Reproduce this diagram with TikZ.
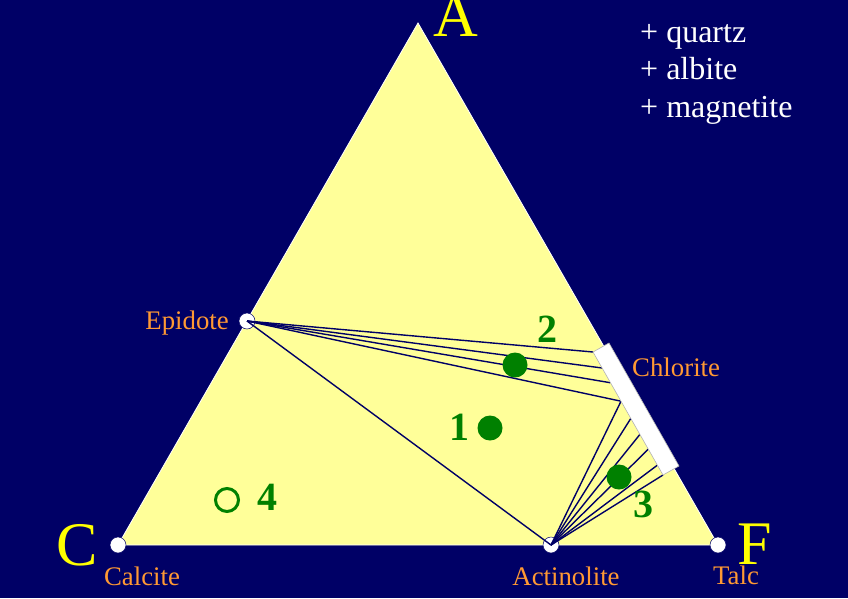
\documentclass[tikz,border=0pt]{standalone}
\usepackage{fontspec}
\setmainfont{Liberation Serif}
\usetikzlibrary{calc}
\definecolor{navy}{HTML}{000066}
\definecolor{paleyellow}{HTML}{FFFF99}
\definecolor{labelorange}{HTML}{FF9933}
\definecolor{vertexyellow}{HTML}{FFFF00}
\definecolor{ptgreen}{HTML}{008000}
\tikzset{
  mineral/.style={text=labelorange, inner sep=0pt, font=\fontsize{26.8}{26.8}\selectfont},
  corner/.style={text=vertexyellow, inner sep=0pt, font=\fontsize{62}{62}\selectfont},
  extra/.style={text=white, inner sep=0pt, anchor=base west, font=\fontsize{32}{32}\selectfont},
  ptlabel/.style={text=ptgreen, inner sep=0pt, anchor=base, font=\fontsize{40}{40}\selectfont\bfseries},
  phase/.style={circle, fill=white, draw=navy, line width=0.5pt, minimum size=16pt, inner sep=0pt},
  tie/.style={draw=navy, line width=1.4pt},
  sample/.style={circle, fill=ptgreen, minimum size=25pt, inner sep=0pt},
  opensample/.style={circle, draw=ptgreen, line width=3pt, minimum size=23pt, inner sep=0pt},
}
\begin{document}
\begin{tikzpicture}[x=1pt,y=-1pt]
\fill[navy] (0,0) rectangle (848,598);
\useasboundingbox (0,0) rectangle (848,598);
% triangle
\coordinate (vA) at (418,23);
\coordinate (vC) at (118,545);
\coordinate (vF) at (718,545);
\fill[paleyellow, draw=white, line width=0.8pt] (vA) -- (vC) -- (vF) -- cycle;
% phases
\node[phase] (ep) at (247,321) {};
\node[phase] (cc) at (vC) {};
\node[phase] (act) at (551,545) {};
\node[phase] (tc) at (vF) {};
% chlorite bar corners
\coordinate (ci1) at (593,352);
\coordinate (ci2) at (663,475);
\coordinate (co1) at (609,343);
\coordinate (co2) at (679,466);
\foreach \t/\n in {0/e1,0.13/e2,0.25/e3,0.40/e4,0.54/a2,0.67/a3,0.79/a4,0.92/a5,1.0/a6}
  \coordinate (\n) at ($(ci1)!\t!(ci2)$);
% tie lines
\foreach \n in {e1,e2,e3,e4} \draw[tie] (ep.center) -- (\n);
\draw[tie] (ep.center) -- (act.center);
\foreach \n in {e4,a2,a3,a4,a5,a6} \draw[tie] (act.center) -- (\n);
% chlorite bar
\draw[fill=white, draw=gray!60, line width=0.6pt] (ci1) -- (co1) -- (co2) -- (ci2) -- cycle;
% samples
\node[sample] (s1) at (490,428) {};
\node[sample] (s2) at (515,365) {};
\node[sample] (s3) at (619,477) {};
\node[opensample] (s4) at (227,500) {};
\node[ptlabel] (l1) at (459,440) {1};
\node[ptlabel] (l2) at (547,342) {2};
\node[ptlabel] (l3) at (643,517) {3};
\node[ptlabel] (l4) at (267,510) {4};
% vertex labels
\node[corner, anchor=base west] (tA) at (433,36) {A};
\node[corner, anchor=base west] (tC) at (56,565) {C};
\node[corner, anchor=base west] (tF) at (737,564) {F};
% mineral labels
\node[mineral, anchor=base east] (lep) at (229,329) {Epidote};
\node[mineral, anchor=base west] (lchl) at (632,376) {Chlorite};
\node[mineral, anchor=base] (lcc) at (142,585) {Calcite};
\node[mineral, anchor=base] (lact) at (566,585) {Actinolite};
\node[mineral, anchor=base] (ltc) at (736,584) {Talc};
% extra phases
\node[extra] (q) at (640,42) {+ quartz};
\node[extra] (ab) at (640,79) {+ albite};
\node[extra] (mt) at (640,117) {+ magnetite};
\end{tikzpicture}
\end{document}
